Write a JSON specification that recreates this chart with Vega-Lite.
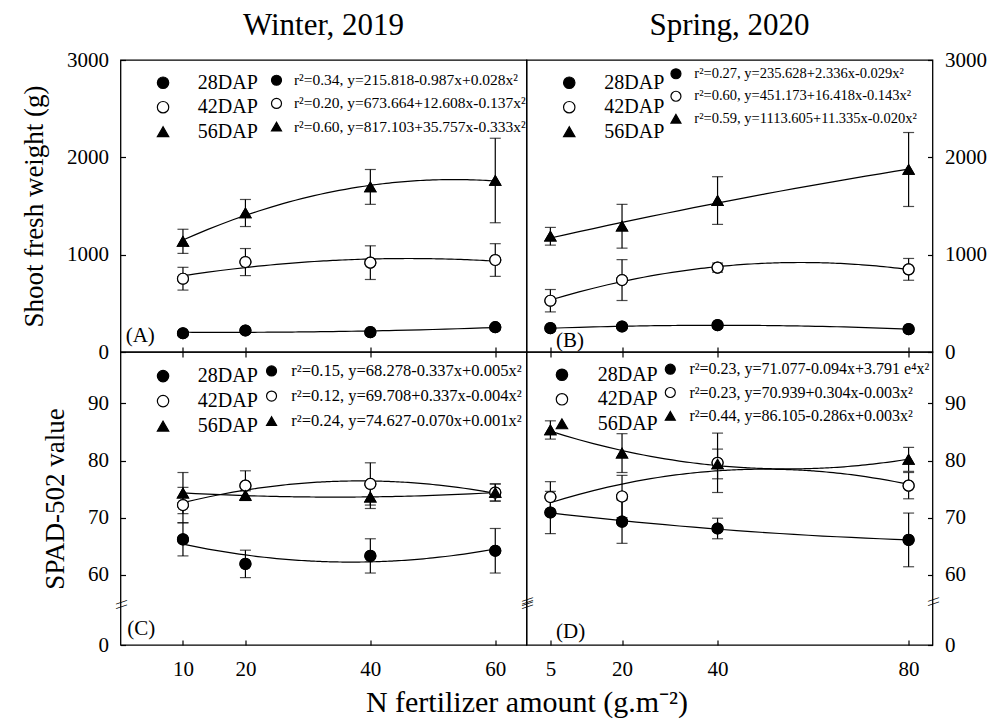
{
"$schema": "https://vega.github.io/schema/vega-lite/v6.json",
"padding": {"left": 19.5, "top": 9, "right": 5, "bottom": 5},
"background": "white",
"config": {
 "font": "Liberation Serif",
 "view": {"stroke": "black", "strokeWidth": 1.3},
 "axis": {"domain": false, "grid": false, "tickColor": "black", "tickSize": -5, "tickWidth": 1.2, "labelFont": "Liberation Serif", "labelFontSize": 21, "labelColor": "black", "labelFlush": false, "labelOverlap": false, "titleFont": "Liberation Serif", "titleFontWeight": "normal", "titleColor": "black", "format": "d"},
 "legend": {"labelFont": "Liberation Serif", "labelColor": "black", "labelLimit": 500, "padding": 0},
 "title": {"font": "Liberation Serif", "fontSize": 31, "fontWeight": "normal", "color": "black", "frame": "group"}
},
"datasets": {
 "pts": [
  {"panel":"A","N":10,"v":193,"err":15,"DAP":"28DAP","eq":"r²=0.34, y=215.818-0.987x+0.028x²"},
  {"panel":"A","N":20,"v":221,"err":15,"DAP":"28DAP","eq":"r²=0.34, y=215.818-0.987x+0.028x²"},
  {"panel":"A","N":40,"v":204,"err":15,"DAP":"28DAP","eq":"r²=0.34, y=215.818-0.987x+0.028x²"},
  {"panel":"A","N":60,"v":255,"err":15,"DAP":"28DAP","eq":"r²=0.34, y=215.818-0.987x+0.028x²"},
  {"panel":"A","N":10,"v":753,"err":117,"DAP":"42DAP","eq":"r²=0.20, y=673.664+12.608x-0.137x²"},
  {"panel":"A","N":20,"v":924,"err":139,"DAP":"42DAP","eq":"r²=0.20, y=673.664+12.608x-0.137x²"},
  {"panel":"A","N":40,"v":918,"err":173,"DAP":"42DAP","eq":"r²=0.20, y=673.664+12.608x-0.137x²"},
  {"panel":"A","N":60,"v":945,"err":168,"DAP":"42DAP","eq":"r²=0.20, y=673.664+12.608x-0.137x²"},
  {"panel":"A","N":10,"v":1137,"err":124,"DAP":"56DAP","eq":"r²=0.60, y=817.103+35.757x-0.333x²"},
  {"panel":"A","N":20,"v":1428,"err":139,"DAP":"56DAP","eq":"r²=0.60, y=817.103+35.757x-0.333x²"},
  {"panel":"A","N":40,"v":1696,"err":179,"DAP":"56DAP","eq":"r²=0.60, y=817.103+35.757x-0.333x²"},
  {"panel":"A","N":60,"v":1762,"err":434,"DAP":"56DAP","eq":"r²=0.60, y=817.103+35.757x-0.333x²"},
  {"panel":"B","N":5,"v":245,"err":15,"DAP":"28DAP","eq":"r²=0.27, y=235.628+2.336x-0.029x²"},
  {"panel":"B","N":20,"v":262,"err":15,"DAP":"28DAP","eq":"r²=0.27, y=235.628+2.336x-0.029x²"},
  {"panel":"B","N":40,"v":276,"err":15,"DAP":"28DAP","eq":"r²=0.27, y=235.628+2.336x-0.029x²"},
  {"panel":"B","N":80,"v":235,"err":15,"DAP":"28DAP","eq":"r²=0.27, y=235.628+2.336x-0.029x²"},
  {"panel":"B","N":5,"v":527,"err":115,"DAP":"42DAP","eq":"r²=0.60, y=451.173+16.418x-0.143x²"},
  {"panel":"B","N":20,"v":739,"err":210,"DAP":"42DAP","eq":"r²=0.60, y=451.173+16.418x-0.143x²"},
  {"panel":"B","N":40,"v":867,"err":47,"DAP":"42DAP","eq":"r²=0.60, y=451.173+16.418x-0.143x²"},
  {"panel":"B","N":80,"v":849,"err":112,"DAP":"42DAP","eq":"r²=0.60, y=451.173+16.418x-0.143x²"},
  {"panel":"B","N":5,"v":1189,"err":91,"DAP":"56DAP","eq":"r²=0.59, y=1113.605+11.335x-0.020x²"},
  {"panel":"B","N":20,"v":1292,"err":225,"DAP":"56DAP","eq":"r²=0.59, y=1113.605+11.335x-0.020x²"},
  {"panel":"B","N":40,"v":1556,"err":245,"DAP":"56DAP","eq":"r²=0.59, y=1113.605+11.335x-0.020x²"},
  {"panel":"B","N":80,"v":1875,"err":380,"DAP":"56DAP","eq":"r²=0.59, y=1113.605+11.335x-0.020x²"},
  {"panel":"C","N":10,"v":66.2,"err":2.9,"DAP":"28DAP","eq":"r²=0.15, y=68.278-0.337x+0.005x²"},
  {"panel":"C","N":20,"v":61.9,"err":2.4,"DAP":"28DAP","eq":"r²=0.15, y=68.278-0.337x+0.005x²"},
  {"panel":"C","N":40,"v":63.3,"err":3.0,"DAP":"28DAP","eq":"r²=0.15, y=68.278-0.337x+0.005x²"},
  {"panel":"C","N":60,"v":64.2,"err":3.9,"DAP":"28DAP","eq":"r²=0.15, y=68.278-0.337x+0.005x²"},
  {"panel":"C","N":10,"v":72.2,"err":3.1,"DAP":"42DAP","eq":"r²=0.12, y=69.708+0.337x-0.004x²"},
  {"panel":"C","N":20,"v":75.6,"err":2.6,"DAP":"42DAP","eq":"r²=0.12, y=69.708+0.337x-0.004x²"},
  {"panel":"C","N":40,"v":75.9,"err":3.7,"DAP":"42DAP","eq":"r²=0.12, y=69.708+0.337x-0.004x²"},
  {"panel":"C","N":60,"v":74.4,"err":1.5,"DAP":"42DAP","eq":"r²=0.12, y=69.708+0.337x-0.004x²"},
  {"panel":"C","N":10,"v":74.3,"err":3.6,"DAP":"56DAP","eq":"r²=0.24, y=74.627-0.070x+0.001x²"},
  {"panel":"C","N":20,"v":73.9,"err":0.8,"DAP":"56DAP","eq":"r²=0.24, y=74.627-0.070x+0.001x²"},
  {"panel":"C","N":40,"v":73.6,"err":2.0,"DAP":"56DAP","eq":"r²=0.24, y=74.627-0.070x+0.001x²"},
  {"panel":"C","N":60,"v":74.4,"err":1.5,"DAP":"56DAP","eq":"r²=0.24, y=74.627-0.070x+0.001x²"},
  {"panel":"D","N":5,"v":70.9,"err":3.7,"DAP":"28DAP","eq":"r²=0.23, y=71.077-0.094x+3.791 e⁴x²"},
  {"panel":"D","N":20,"v":69.3,"err":3.8,"DAP":"28DAP","eq":"r²=0.23, y=71.077-0.094x+3.791 e⁴x²"},
  {"panel":"D","N":40,"v":68.1,"err":1.8,"DAP":"28DAP","eq":"r²=0.23, y=71.077-0.094x+3.791 e⁴x²"},
  {"panel":"D","N":80,"v":66.1,"err":4.7,"DAP":"28DAP","eq":"r²=0.23, y=71.077-0.094x+3.791 e⁴x²"},
  {"panel":"D","N":5,"v":73.6,"err":2.7,"DAP":"42DAP","eq":"r²=0.23, y=70.939+0.304x-0.003x²"},
  {"panel":"D","N":20,"v":73.7,"err":3.7,"DAP":"42DAP","eq":"r²=0.23, y=70.939+0.304x-0.003x²"},
  {"panel":"D","N":40,"v":79.6,"err":5.2,"DAP":"42DAP","eq":"r²=0.23, y=70.939+0.304x-0.003x²"},
  {"panel":"D","N":80,"v":75.6,"err":2.3,"DAP":"42DAP","eq":"r²=0.23, y=70.939+0.304x-0.003x²"},
  {"panel":"D","N":5,"v":85.35,"err":1.6,"DAP":"56DAP","eq":"r²=0.44, y=86.105-0.286x+0.003x²"},
  {"panel":"D","N":20,"v":81.3,"err":3.4,"DAP":"56DAP","eq":"r²=0.44, y=86.105-0.286x+0.003x²"},
  {"panel":"D","N":40,"v":79.4,"err":2.6,"DAP":"56DAP","eq":"r²=0.44, y=86.105-0.286x+0.003x²"},
  {"panel":"D","N":80,"v":80.2,"err":2.1,"DAP":"56DAP","eq":"r²=0.44, y=86.105-0.286x+0.003x²"}
 ]
},
"columns": 2,
"spacing": 0,
"bounds": "flush",
"resolve": {"scale": {"shape": "independent", "fill": "independent", "stroke": "independent"}, "legend": {"shape": "independent", "fill": "independent", "stroke": "independent"}},
"concat": [
 {
  "width": 406, "height": 292,
  "title": {"text": "Winter, 2019", "offset": -17, "baseline": "alphabetic"},
  "data": {"name": "pts"},
  "layer": [
   {
    "encoding": {
     "x": {"field": "N", "type": "quantitative", "scale": {"domain": [0, 65], "nice": false, "zero": false}, "axis": {"orient": "bottom", "values": [10, 20, 40, 60], "labels": false, "title": null}},
     "y": {"field": "v", "type": "quantitative", "scale": {"domain": [0, 3000], "nice": false, "zero": false}, "axis": {"orient": "left", "values": [0, 1000, 2000, 3000], "title": "Shoot fresh weight (g)", "titleFontSize": 27, "titlePadding": 18, "labelPadding": 17}}
    },
    "layer": [
     {"transform": [{"filter": "datum.panel === 'A'"}, {"regression": "v", "on": "N", "groupby": ["DAP"], "method": "poly", "order": 2}], "mark": {"type": "line", "color": "black", "strokeWidth": 1.2}, "encoding": {"detail": {"field": "DAP"}}},
     {"transform": [{"filter": "datum.panel === 'A'"}], "mark": {"type": "errorbar", "ticks": {"size": 11}, "color": "black", "thickness": 1.2}, "encoding": {"yError": {"field": "err"}}},
     {"transform": [{"filter": "datum.panel === 'A'"}], "mark": {"type": "point", "filled": true, "size": 120, "strokeWidth": 1.2, "opacity": 1},
      "encoding": {
       "shape": {"field": "DAP", "type": "nominal", "scale": {"domain": ["28DAP", "42DAP", "56DAP"], "range": ["circle", "circle", "triangle-up"]}, "legend": {"orient": "none", "legendX": 32.55, "legendY": 12.7, "title": null, "labelFontSize": 20, "symbolSize": 130, "labelOffset": 24.75, "rowPadding": 4.5, "symbolStrokeWidth": 1.2, "symbolOpacity": 1}},
       "fill": {"field": "DAP", "type": "nominal", "scale": {"domain": ["28DAP", "42DAP", "56DAP"], "range": ["black", "white", "black"]}, "legend": {"orient": "none", "legendX": 32.55, "legendY": 12.7, "title": null, "labelFontSize": 20, "symbolSize": 130, "labelOffset": 24.75, "rowPadding": 4.5, "symbolStrokeWidth": 1.2, "symbolOpacity": 1}},
       "stroke": {"field": "DAP", "type": "nominal", "scale": {"domain": ["28DAP", "42DAP", "56DAP"], "range": ["black", "black", "black"]}, "legend": {"orient": "none", "legendX": 32.55, "legendY": 12.7, "title": null, "labelFontSize": 20, "symbolSize": 130, "labelOffset": 24.75, "rowPadding": 4.5, "symbolStrokeWidth": 1.2, "symbolOpacity": 1}}
      }},
     {"transform": [{"filter": "datum.panel === 'A'"}], "mark": {"type": "point", "filled": true, "size": 120, "strokeWidth": 1.2, "opacity": 1},
      "encoding": {
       "shape": {"field": "eq", "type": "nominal", "scale": {"domain": ["r²=0.34, y=215.818-0.987x+0.028x²", "r²=0.20, y=673.664+12.608x-0.137x²", "r²=0.60, y=817.103+35.757x-0.333x²"], "range": ["circle", "circle", "triangle-up"]}, "legend": {"orient": "none", "legendX": 148.25, "legendY": 12.5, "title": null, "labelFontSize": 15.5, "symbolSize": 100, "labelOffset": 9.65, "rowPadding": 6.2, "symbolStrokeWidth": 1.2, "symbolOpacity": 1}},
       "fill": {"field": "eq", "type": "nominal", "scale": {"domain": ["r²=0.34, y=215.818-0.987x+0.028x²", "r²=0.20, y=673.664+12.608x-0.137x²", "r²=0.60, y=817.103+35.757x-0.333x²"], "range": ["black", "white", "black"]}, "legend": {"orient": "none", "legendX": 148.25, "legendY": 12.5, "title": null, "labelFontSize": 15.5, "symbolSize": 100, "labelOffset": 9.65, "rowPadding": 6.2, "symbolStrokeWidth": 1.2, "symbolOpacity": 1}},
       "stroke": {"field": "eq", "type": "nominal", "scale": {"domain": ["r²=0.34, y=215.818-0.987x+0.028x²", "r²=0.20, y=673.664+12.608x-0.137x²", "r²=0.60, y=817.103+35.757x-0.333x²"], "range": ["black", "black", "black"]}, "legend": {"orient": "none", "legendX": 148.25, "legendY": 12.5, "title": null, "labelFontSize": 15.5, "symbolSize": 100, "labelOffset": 9.65, "rowPadding": 6.2, "symbolStrokeWidth": 1.2, "symbolOpacity": 1}}
      }}
    ],
    "resolve": {"scale": {"shape": "independent", "fill": "independent", "stroke": "independent"}, "legend": {"shape": "independent", "fill": "independent", "stroke": "independent"}}
   },
   {"data": {"values": [{"lab": "(A)"}]}, "mark": {"type": "text", "align": "left", "baseline": "middle", "fontSize": 21, "color": "black"}, "encoding": {"text": {"field": "lab"}, "x": {"datum": 0.83, "type": "quantitative"}, "y": {"datum": 160, "type": "quantitative"}}}
  ],
  "resolve": {"scale": {"shape": "independent", "fill": "independent", "stroke": "independent"}, "legend": {"shape": "independent", "fill": "independent", "stroke": "independent"}}
 },
 {
  "width": 406, "height": 292,
  "title": {"text": "Spring, 2020", "offset": -17, "baseline": "alphabetic"},
  "data": {"name": "pts"},
  "layer": [
   {
    "encoding": {
     "x": {"field": "N", "type": "quantitative", "scale": {"domain": [0, 85], "nice": false, "zero": false}, "axis": {"orient": "bottom", "values": [5, 20, 40, 80], "labels": false, "title": null}},
     "y": {"field": "v", "type": "quantitative", "scale": {"domain": [0, 3000], "nice": false, "zero": false}, "axis": {"orient": "right", "values": [0, 1000, 2000, 3000], "title": null, "labelPadding": 17}}
    },
    "layer": [
     {"transform": [{"filter": "datum.panel === 'B'"}, {"regression": "v", "on": "N", "groupby": ["DAP"], "method": "poly", "order": 2}], "mark": {"type": "line", "color": "black", "strokeWidth": 1.2}, "encoding": {"detail": {"field": "DAP"}}},
     {"transform": [{"filter": "datum.panel === 'B'"}], "mark": {"type": "errorbar", "ticks": {"size": 11}, "color": "black", "thickness": 1.2}, "encoding": {"yError": {"field": "err"}}},
     {"transform": [{"filter": "datum.panel === 'B'"}], "mark": {"type": "point", "filled": true, "size": 120, "strokeWidth": 1.2, "opacity": 1},
      "encoding": {
       "shape": {"field": "DAP", "type": "nominal", "scale": {"domain": ["28DAP", "42DAP", "56DAP"], "range": ["circle", "circle", "triangle-up"]}, "legend": {"orient": "none", "legendX": 32.75, "legendY": 12.7, "title": null, "labelFontSize": 20, "symbolSize": 130, "labelOffset": 25.05, "rowPadding": 4.5, "symbolStrokeWidth": 1.2, "symbolOpacity": 1}},
       "fill": {"field": "DAP", "type": "nominal", "scale": {"domain": ["28DAP", "42DAP", "56DAP"], "range": ["black", "white", "black"]}, "legend": {"orient": "none", "legendX": 32.75, "legendY": 12.7, "title": null, "labelFontSize": 20, "symbolSize": 130, "labelOffset": 25.05, "rowPadding": 4.5, "symbolStrokeWidth": 1.2, "symbolOpacity": 1}},
       "stroke": {"field": "DAP", "type": "nominal", "scale": {"domain": ["28DAP", "42DAP", "56DAP"], "range": ["black", "black", "black"]}, "legend": {"orient": "none", "legendX": 32.75, "legendY": 12.7, "title": null, "labelFontSize": 20, "symbolSize": 130, "labelOffset": 25.05, "rowPadding": 4.5, "symbolStrokeWidth": 1.2, "symbolOpacity": 1}}
      }},
     {"transform": [{"filter": "datum.panel === 'B'"}], "mark": {"type": "point", "filled": true, "size": 120, "strokeWidth": 1.2, "opacity": 1},
      "encoding": {
       "shape": {"field": "eq", "type": "nominal", "scale": {"domain": ["r²=0.27, y=235.628+2.336x-0.029x²", "r²=0.60, y=451.173+16.418x-0.143x²", "r²=0.59, y=1113.605+11.335x-0.020x²"], "range": ["circle", "circle", "triangle-up"]}, "legend": {"orient": "none", "legendX": 142.2, "legendY": 6.5, "title": null, "labelFontSize": 14.5, "symbolSize": 100, "labelOffset": 11.1, "rowPadding": 6.5, "symbolStrokeWidth": 1.2, "symbolOpacity": 1}},
       "fill": {"field": "eq", "type": "nominal", "scale": {"domain": ["r²=0.27, y=235.628+2.336x-0.029x²", "r²=0.60, y=451.173+16.418x-0.143x²", "r²=0.59, y=1113.605+11.335x-0.020x²"], "range": ["black", "white", "black"]}, "legend": {"orient": "none", "legendX": 142.2, "legendY": 6.5, "title": null, "labelFontSize": 14.5, "symbolSize": 100, "labelOffset": 11.1, "rowPadding": 6.5, "symbolStrokeWidth": 1.2, "symbolOpacity": 1}},
       "stroke": {"field": "eq", "type": "nominal", "scale": {"domain": ["r²=0.27, y=235.628+2.336x-0.029x²", "r²=0.60, y=451.173+16.418x-0.143x²", "r²=0.59, y=1113.605+11.335x-0.020x²"], "range": ["black", "black", "black"]}, "legend": {"orient": "none", "legendX": 142.2, "legendY": 6.5, "title": null, "labelFontSize": 14.5, "symbolSize": 100, "labelOffset": 11.1, "rowPadding": 6.5, "symbolStrokeWidth": 1.2, "symbolOpacity": 1}}
      }}
    ],
    "resolve": {"scale": {"shape": "independent", "fill": "independent", "stroke": "independent"}, "legend": {"shape": "independent", "fill": "independent", "stroke": "independent"}}
   },
   {"data": {"values": [{"lab": "(B)"}]}, "mark": {"type": "text", "align": "left", "baseline": "middle", "fontSize": 21, "color": "black"}, "encoding": {"text": {"field": "lab"}, "x": {"datum": 6.2, "type": "quantitative"}, "y": {"datum": 108, "type": "quantitative"}}}
  ],
  "resolve": {"scale": {"shape": "independent", "fill": "independent", "stroke": "independent"}, "legend": {"shape": "independent", "fill": "independent", "stroke": "independent"}}
 },
 {
  "width": 406, "height": 293,
  "data": {"name": "pts"},
  "layer": [
   {
    "encoding": {
     "x": {"field": "N", "type": "quantitative", "scale": {"domain": [0, 65], "nice": false, "zero": false}, "axis": {"orient": "bottom", "values": [10, 20, 40, 60], "title": "N fertilizer amount (g.m⁻²)", "titleFontSize": 30, "titleX": 406, "titlePadding": 8, "labelPadding": 18.5}},
     "y": {"field": "v", "type": "quantitative", "scale": {"domain": [47.7, 99], "nice": false, "zero": false}, "axis": {"orient": "left", "values": [47.7, 60, 70, 80, 90], "labelExpr": "datum.value < 50 ? '0' : datum.label", "title": "SPAD-502 value", "titleFontSize": 27, "titlePadding": 18, "labelPadding": 17}}
    },
    "layer": [
     {"transform": [{"filter": "datum.panel === 'C'"}, {"regression": "v", "on": "N", "groupby": ["DAP"], "method": "poly", "order": 2}], "mark": {"type": "line", "color": "black", "strokeWidth": 1.2}, "encoding": {"detail": {"field": "DAP"}}},
     {"transform": [{"filter": "datum.panel === 'C'"}], "mark": {"type": "errorbar", "ticks": {"size": 11}, "color": "black", "thickness": 1.2}, "encoding": {"yError": {"field": "err"}}},
     {"transform": [{"filter": "datum.panel === 'C'"}], "mark": {"type": "point", "filled": true, "size": 120, "strokeWidth": 1.2, "opacity": 1},
      "encoding": {
       "shape": {"field": "DAP", "type": "nominal", "scale": {"domain": ["28DAP", "42DAP", "56DAP"], "range": ["circle", "circle", "triangle-up"]}, "legend": {"orient": "none", "legendX": 32.55, "legendY": 14.1, "title": null, "labelFontSize": 20, "symbolSize": 130, "labelOffset": 24.75, "rowPadding": 5, "symbolStrokeWidth": 1.2, "symbolOpacity": 1}},
       "fill": {"field": "DAP", "type": "nominal", "scale": {"domain": ["28DAP", "42DAP", "56DAP"], "range": ["black", "white", "black"]}, "legend": {"orient": "none", "legendX": 32.55, "legendY": 14.1, "title": null, "labelFontSize": 20, "symbolSize": 130, "labelOffset": 24.75, "rowPadding": 5, "symbolStrokeWidth": 1.2, "symbolOpacity": 1}},
       "stroke": {"field": "DAP", "type": "nominal", "scale": {"domain": ["28DAP", "42DAP", "56DAP"], "range": ["black", "black", "black"]}, "legend": {"orient": "none", "legendX": 32.55, "legendY": 14.1, "title": null, "labelFontSize": 20, "symbolSize": 130, "labelOffset": 24.75, "rowPadding": 5, "symbolStrokeWidth": 1.2, "symbolOpacity": 1}}
      }},
     {"transform": [{"filter": "datum.panel === 'C'"}], "mark": {"type": "point", "filled": true, "size": 120, "strokeWidth": 1.2, "opacity": 1},
      "encoding": {
       "shape": {"field": "eq", "type": "nominal", "scale": {"domain": ["r²=0.15, y=68.278-0.337x+0.005x²", "r²=0.12, y=69.708+0.337x-0.004x²", "r²=0.24, y=74.627-0.070x+0.001x²"], "range": ["circle", "circle", "triangle-up"]}, "legend": {"orient": "none", "legendX": 142.8, "legendY": 10.7, "title": null, "labelFontSize": 16.5, "symbolSize": 100, "labelOffset": 11.55, "rowPadding": 8.1, "symbolStrokeWidth": 1.2, "symbolOpacity": 1}},
       "fill": {"field": "eq", "type": "nominal", "scale": {"domain": ["r²=0.15, y=68.278-0.337x+0.005x²", "r²=0.12, y=69.708+0.337x-0.004x²", "r²=0.24, y=74.627-0.070x+0.001x²"], "range": ["black", "white", "black"]}, "legend": {"orient": "none", "legendX": 142.8, "legendY": 10.7, "title": null, "labelFontSize": 16.5, "symbolSize": 100, "labelOffset": 11.55, "rowPadding": 8.1, "symbolStrokeWidth": 1.2, "symbolOpacity": 1}},
       "stroke": {"field": "eq", "type": "nominal", "scale": {"domain": ["r²=0.15, y=68.278-0.337x+0.005x²", "r²=0.12, y=69.708+0.337x-0.004x²", "r²=0.24, y=74.627-0.070x+0.001x²"], "range": ["black", "black", "black"]}, "legend": {"orient": "none", "legendX": 142.8, "legendY": 10.7, "title": null, "labelFontSize": 16.5, "symbolSize": 100, "labelOffset": 11.55, "rowPadding": 8.1, "symbolStrokeWidth": 1.2, "symbolOpacity": 1}}
      }}
    ],
    "resolve": {"scale": {"shape": "independent", "fill": "independent", "stroke": "independent"}, "legend": {"shape": "independent", "fill": "independent", "stroke": "independent"}}
   },
   {"data": {"values": [{"lab": "(C)"}]}, "mark": {"type": "text", "align": "left", "baseline": "middle", "fontSize": 21, "color": "black"}, "encoding": {"text": {"field": "lab"}, "x": {"datum": 1.1, "type": "quantitative", "axis": null}, "y": {"datum": 50.5, "type": "quantitative"}}},
   {"data": {"values": [{"lab": "\\\\"}]}, "mark": {"type": "text", "angle": 90, "fontSize": 16, "color": "black"}, "encoding": {"text": {"field": "lab"}, "x": {"datum": 0, "type": "quantitative", "axis": {"orient": "top", "values": [10, 20, 40, 60], "labels": false, "title": null}}, "y": {"datum": 54.8, "type": "quantitative"}}},
   {"data": {"values": [{"lab": "\\\\"}]}, "mark": {"type": "text", "angle": 90, "fontSize": 16, "color": "black"}, "encoding": {"text": {"field": "lab"}, "x": {"datum": 65, "type": "quantitative", "axis": null}, "y": {"datum": 55.3, "type": "quantitative"}}}
  ],
  "resolve": {"scale": {"shape": "independent", "fill": "independent", "stroke": "independent"}, "legend": {"shape": "independent", "fill": "independent", "stroke": "independent"}}
 },
 {
  "width": 406, "height": 293,
  "data": {"name": "pts"},
  "layer": [
   {
    "encoding": {
     "x": {"field": "N", "type": "quantitative", "scale": {"domain": [0, 85], "nice": false, "zero": false}, "axis": {"orient": "bottom", "values": [5, 20, 40, 80], "title": null, "labelPadding": 18.5}},
     "y": {"field": "v", "type": "quantitative", "scale": {"domain": [47.7, 99], "nice": false, "zero": false}, "axis": {"orient": "right", "values": [47.7, 60, 70, 80, 90], "labelExpr": "datum.value < 50 ? '0' : datum.label", "title": null, "labelPadding": 17}}
    },
    "layer": [
     {"transform": [{"filter": "datum.panel === 'D'"}, {"regression": "v", "on": "N", "groupby": ["DAP"], "method": "poly", "order": 2}], "mark": {"type": "line", "color": "black", "strokeWidth": 1.2}, "encoding": {"detail": {"field": "DAP"}}},
     {"transform": [{"filter": "datum.panel === 'D'"}], "mark": {"type": "errorbar", "ticks": {"size": 11}, "color": "black", "thickness": 1.2}, "encoding": {"yError": {"field": "err"}}},
     {"transform": [{"filter": "datum.panel === 'D'"}], "mark": {"type": "point", "filled": true, "size": 120, "strokeWidth": 1.2, "opacity": 1},
      "encoding": {
       "shape": {"field": "DAP", "type": "nominal", "scale": {"domain": ["28DAP", "42DAP", "56DAP"], "range": ["circle", "circle", "triangle-up"]}, "legend": {"orient": "none", "legendX": 25.45, "legendY": 12.8, "title": null, "labelFontSize": 20, "symbolSize": 130, "labelOffset": 25.75, "rowPadding": 4.5, "symbolStrokeWidth": 1.2, "symbolOpacity": 1}},
       "fill": {"field": "DAP", "type": "nominal", "scale": {"domain": ["28DAP", "42DAP", "56DAP"], "range": ["black", "white", "black"]}, "legend": {"orient": "none", "legendX": 25.45, "legendY": 12.8, "title": null, "labelFontSize": 20, "symbolSize": 130, "labelOffset": 25.75, "rowPadding": 4.5, "symbolStrokeWidth": 1.2, "symbolOpacity": 1}},
       "stroke": {"field": "DAP", "type": "nominal", "scale": {"domain": ["28DAP", "42DAP", "56DAP"], "range": ["black", "black", "black"]}, "legend": {"orient": "none", "legendX": 25.45, "legendY": 12.8, "title": null, "labelFontSize": 20, "symbolSize": 130, "labelOffset": 25.75, "rowPadding": 4.5, "symbolStrokeWidth": 1.2, "symbolOpacity": 1}}
      }},
     {"transform": [{"filter": "datum.panel === 'D'"}], "mark": {"type": "point", "filled": true, "size": 120, "strokeWidth": 1.2, "opacity": 1},
      "encoding": {
       "shape": {"field": "eq", "type": "nominal", "scale": {"domain": ["r²=0.23, y=71.077-0.094x+3.791 e⁴x²", "r²=0.23, y=70.939+0.304x-0.003x²", "r²=0.44, y=86.105-0.286x+0.003x²"], "range": ["circle", "circle", "triangle-up"]}, "legend": {"orient": "none", "legendX": 135.8, "legendY": 9.2, "title": null, "labelFontSize": 16, "symbolSize": 100, "labelOffset": 11.1, "rowPadding": 7.3, "symbolStrokeWidth": 1.2, "symbolOpacity": 1}},
       "fill": {"field": "eq", "type": "nominal", "scale": {"domain": ["r²=0.23, y=71.077-0.094x+3.791 e⁴x²", "r²=0.23, y=70.939+0.304x-0.003x²", "r²=0.44, y=86.105-0.286x+0.003x²"], "range": ["black", "white", "black"]}, "legend": {"orient": "none", "legendX": 135.8, "legendY": 9.2, "title": null, "labelFontSize": 16, "symbolSize": 100, "labelOffset": 11.1, "rowPadding": 7.3, "symbolStrokeWidth": 1.2, "symbolOpacity": 1}},
       "stroke": {"field": "eq", "type": "nominal", "scale": {"domain": ["r²=0.23, y=71.077-0.094x+3.791 e⁴x²", "r²=0.23, y=70.939+0.304x-0.003x²", "r²=0.44, y=86.105-0.286x+0.003x²"], "range": ["black", "black", "black"]}, "legend": {"orient": "none", "legendX": 135.8, "legendY": 9.2, "title": null, "labelFontSize": 16, "symbolSize": 100, "labelOffset": 11.1, "rowPadding": 7.3, "symbolStrokeWidth": 1.2, "symbolOpacity": 1}}
      }}
    ],
    "resolve": {"scale": {"shape": "independent", "fill": "independent", "stroke": "independent"}, "legend": {"shape": "independent", "fill": "independent", "stroke": "independent"}}
   },
   {"data": {"values": [{"lab": "(D)"}]}, "mark": {"type": "text", "align": "left", "baseline": "middle", "fontSize": 21, "color": "black"}, "encoding": {"text": {"field": "lab"}, "x": {"datum": 6.2, "type": "quantitative", "axis": null}, "y": {"datum": 49.95, "type": "quantitative"}}},
   {"data": {"values": [{"lab": "\\\\"}]}, "mark": {"type": "text", "angle": 90, "fontSize": 16, "color": "black"}, "encoding": {"text": {"field": "lab"}, "x": {"datum": 0, "type": "quantitative", "axis": {"orient": "top", "values": [5, 20, 40, 80], "labels": false, "title": null}}, "y": {"datum": 54.8, "type": "quantitative"}}},
   {"data": {"values": [{"lab": "\\\\"}]}, "mark": {"type": "text", "angle": 90, "fontSize": 16, "color": "black"}, "encoding": {"text": {"field": "lab"}, "x": {"datum": 85, "type": "quantitative", "axis": null}, "y": {"datum": 55.3, "type": "quantitative"}}}
  ],
  "resolve": {"scale": {"shape": "independent", "fill": "independent", "stroke": "independent"}, "legend": {"shape": "independent", "fill": "independent", "stroke": "independent"}}
 }
]
}
